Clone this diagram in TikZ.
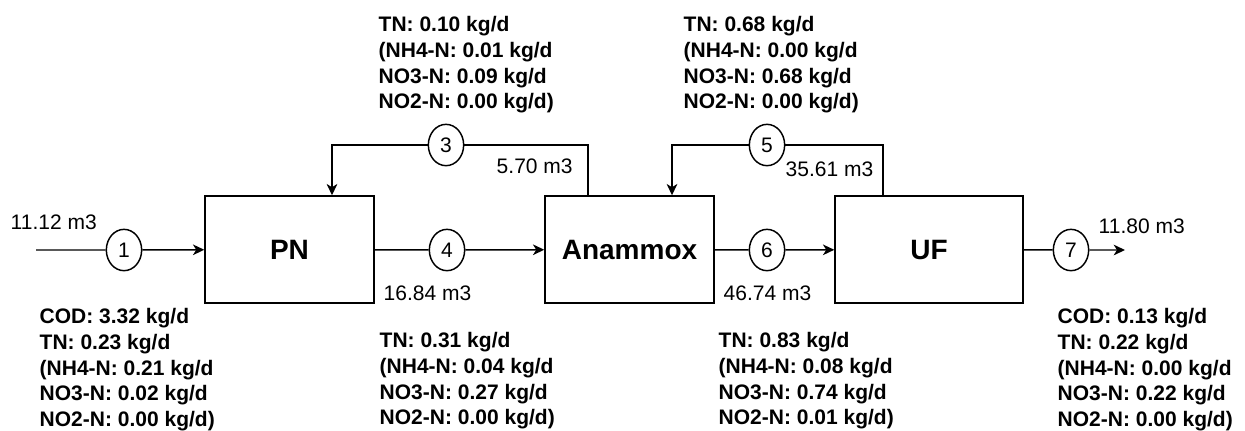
\documentclass[tikz,border=0pt]{standalone}
\usepackage{fontspec}
\setmainfont{Liberation Sans}
\usetikzlibrary{arrows.meta}
\usetikzlibrary{shapes.geometric}

\begin{document}
\begin{tikzpicture}[x=0.75pt, y=-0.75pt, line width=1.1pt,
  unit/.style={draw, minimum height=80.25pt, inner sep=0pt,
               font=\fontsize{21}{25}\selectfont\bfseries},
  tag/.style={draw, ellipse, minimum width=26.5pt, minimum height=31pt,
              inner sep=0pt, font=\fontsize{15.75}{19.2}\selectfont},
  flow/.style={-{Stealth[length=8.5pt, width=8pt, inset=2.5pt]}},
  vol/.style={anchor=base west, inner sep=0pt,
              font=\fontsize{15.75}{19.2}\selectfont},
  load/.style={anchor=north west, inner sep=0pt, align=left,
               font=\fontsize{15.75}{19.2}\selectfont\bfseries}]
  \useasboundingbox (0,0) rectangle (1245,430);
  % the three reactors
  \node[unit, minimum width=126.75pt] (pn) at (289.5,249.5) {PN};
  \node[unit, minimum width=126.75pt] (am) at (629.5,249.5) {Anammox};
  \node[unit, minimum width=141pt]    (uf) at (929,249.5)   {UF};
  % stream tags
  \node[tag] (s1) at (124,250) {1};
  \node[tag] (s3) at (446,145) {3};
  \node[tag] (s4) at (447,250) {4};
  \node[tag] (s5) at (767,145) {5};
  \node[tag] (s6) at (767,250) {6};
  \node[tag] (s7) at (1071,250) {7};
  \coordinate (in)  at (36,250);
  \coordinate (out) at (1125,250);
  \coordinate (t3) at (588,145);  \coordinate (d3) at (332,145);
  \coordinate (t5) at (883,145);  \coordinate (d5) at (672,145);
  % main line
  \draw[flow] (in) -- (s1) -- (pn);
  \draw[flow] (pn) -- (s4) -- (am);
  \draw[flow] (am) -- (s6) -- (uf);
  \draw[flow] (uf) -- (s7) -- (out);
  % returns
  \draw (am.north -| t3) |- (s3);
  \draw[flow] (s3) -| (pn.north -| d3);
  \draw (uf.north -| t5) |- (s5);
  \draw[flow] (s5) -| (am.north -| d5);
  % volumes
  \node[vol] (v1) at (10,229)   {11.12 m3};
  \node[vol] (v3) at (496,173)  {5.70 m3};
  \node[vol] (v4) at (383,300)  {16.84 m3};
  \node[vol] (v5) at (785,176)  {35.61 m3};
  \node[vol] (v6) at (723,300)  {46.74 m3};
  \node[vol] (v7) at (1098,233) {11.80 m3};
  % loads
  \node[load] (l3) at (378,16) {TN: 0.10 kg/d\\(NH4-N: 0.01 kg/d\\NO3-N: 0.09 kg/d\\NO2-N: 0.00 kg/d)};
  \node[load] (l5) at (683,16) {TN: 0.68 kg/d\\(NH4-N: 0.00 kg/d\\NO3-N: 0.68 kg/d\\NO2-N: 0.00 kg/d)};
  \node[load] (l1) at (39,308) {COD: 3.32 kg/d\\TN: 0.23 kg/d\\(NH4-N: 0.21 kg/d\\NO3-N: 0.02 kg/d\\NO2-N: 0.00 kg/d)};
  \node[load] (l4) at (379,332) {TN: 0.31 kg/d\\(NH4-N: 0.04 kg/d\\NO3-N: 0.27 kg/d\\NO2-N: 0.00 kg/d)};
  \node[load] (l6) at (718,332) {TN: 0.83 kg/d\\(NH4-N: 0.08 kg/d\\NO3-N: 0.74 kg/d\\NO2-N: 0.01 kg/d)};
  \node[load] (l7) at (1057,308) {COD: 0.13 kg/d\\TN: 0.22 kg/d\\(NH4-N: 0.00 kg/d\\NO3-N: 0.22 kg/d\\NO2-N: 0.00 kg/d)};
\end{tikzpicture}
\end{document}
